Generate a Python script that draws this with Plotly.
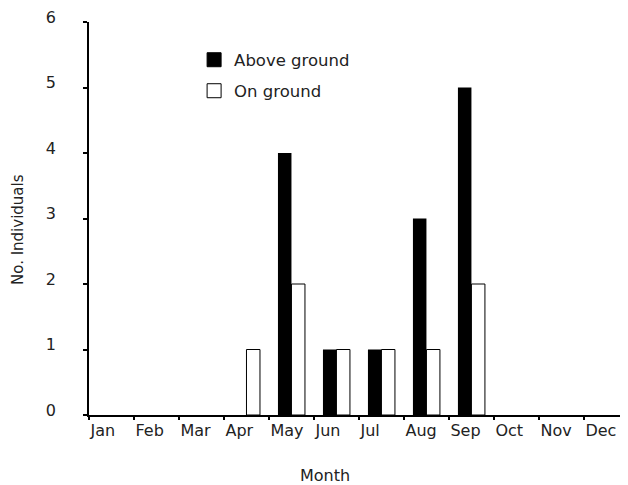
import plotly.graph_objects as go

months = ["Jan", "Feb", "Mar", "Apr", "May", "Jun", "Jul", "Aug", "Sep", "Oct", "Nov", "Dec"]
above_ground = [0, 0, 0, 0, 4, 1, 1, 3, 5, 0, 0, 0]
on_ground = [0, 0, 0, 1, 2, 1, 1, 1, 2, 0, 0, 0]
y_ticks = [0, 1, 2, 3, 4, 5, 6]

idx = list(range(len(months)))
FONT = "DejaVu Sans"
TXT = "#222222"
FS = 16
PLOT_H = 393

fig = go.Figure()
fig.add_trace(go.Bar(x=idx, y=above_ground, name="Above ground", showlegend=False,
                     marker=dict(color="#000000", line=dict(width=0))))
fig.add_trace(go.Bar(x=idx, y=on_ground, name="On ground", showlegend=False,
                     marker=dict(color="#ffffff",
                                 line=dict(color="#000000", width=[1 if v else 0 for v in on_ground]))))
# legend keys
fig.add_trace(go.Scatter(x=[None], y=[None], mode="markers", name="Above ground",
                         marker=dict(symbol="square", size=14, color="#000000",
                                     line=dict(color="#000000", width=1)),
                         legend="legend"))
fig.add_trace(go.Scatter(x=[None], y=[None], mode="markers", name="On ground",
                         marker=dict(symbol="square", size=14, color="#ffffff",
                                     line=dict(color="#000000", width=1)),
                         legend="legend2"))

tickvals = [i - 0.5 for i in idx] + [len(months) - 0.5]
ticktext = months + [""]


def py(page_y):
    return (415 - page_y) / PLOT_H


fig.update_layout(
    width=620, height=477,
    margin=dict(l=81, r=0, t=14, b=70),
    paper_bgcolor="white", plot_bgcolor="white",
    barmode="group", bargap=0.4, bargroupgap=0,
    font=dict(family=FONT, size=FS, color=TXT),
    showlegend=True,
    legend=dict(x=0.195, y=py(60), xanchor="left", yanchor="middle",
                bgcolor="rgba(0,0,0,0)", font=dict(size=16.5, color=TXT)),
    legend2=dict(x=0.195, y=py(91), xanchor="left", yanchor="middle",
                 bgcolor="rgba(0,0,0,0)", font=dict(size=16.5, color=TXT)),
    xaxis=dict(range=[-0.5, 11.48], tickmode="array", tickvals=tickvals, ticktext=ticktext,
               ticks="outside", ticklen=3, tickwidth=1.5, tickcolor="#000",
               ticklabelposition="outside right", ticklabeloverflow="allow", automargin=False,
               showline=True, linecolor="#000", linewidth=1.5,
               showgrid=False, zeroline=False,
               tickfont=dict(family=FONT, size=FS, color=TXT)),
    yaxis=dict(range=[0, 6], tickmode="array", tickvals=y_ticks,
               ticks="outside", ticklen=4, tickwidth=1.5, tickcolor="#000",
               ticklabelstandoff=24, ticklabelshift=-5, ticklabeloverflow="allow",
               automargin=False,
               showline=True, linecolor="#000", linewidth=1.5,
               showgrid=False, zeroline=False,
               tickfont=dict(family=FONT, size=FS, color=TXT)),
    annotations=[
        dict(text="Month", xref="paper", yref="paper", x=(325 - 89) / 539, y=py(475),
             xanchor="center", yanchor="middle", showarrow=False,
             font=dict(family=FONT, size=FS, color=TXT)),
        dict(text="No. Individuals", xref="paper", yref="paper", x=-(89 - 18) / 539,
             y=py(230), xanchor="center", yanchor="middle", textangle=-90,
             showarrow=False, font=dict(family=FONT, size=15, color=TXT)),
    ],
)

fig.write_html("out.html")
